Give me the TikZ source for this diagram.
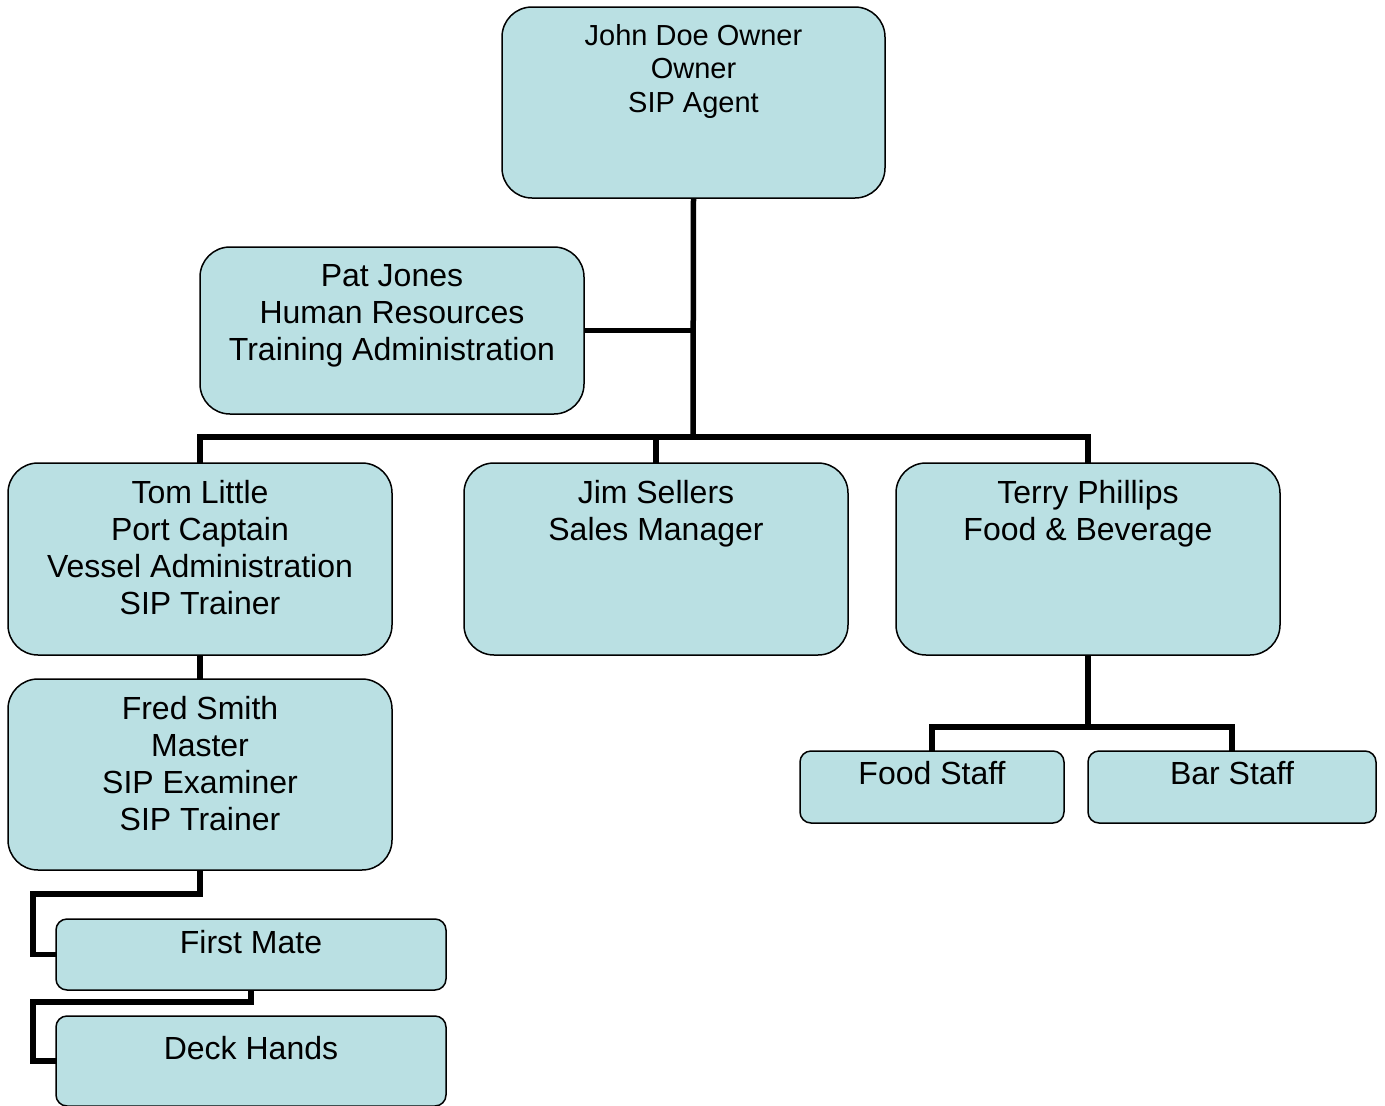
\documentclass[tikz,border=0pt]{standalone}
\usepackage{fontspec}
\setmainfont{Liberation Sans}
\usetikzlibrary{backgrounds}
\definecolor{boxfill}{RGB}{186,224,227}
\tikzset{
  x=1pt, y=-1pt,
  orgbox/.style={draw=black, line width=1.5pt, fill=boxfill, rectangle, inner sep=0pt, outer sep=0pt},
  bigbox/.style={orgbox, rounded corners=30pt},
  smallbox/.style={orgbox, rounded corners=11pt},
  txt/.style={anchor=north, align=center, inner sep=0pt, font=\fontsize{32}{37}\selectfont},
  txtj/.style={anchor=north, align=center, inner sep=0pt, font=\fontsize{29}{33.5}\selectfont},
  conn/.style={draw=black, line width=5.5pt, line join=miter}
}
\begin{document}
\begin{tikzpicture}
\useasboundingbox (0,0) rectangle (1385,1106);
% boxes
\node[bigbox, minimum width=383pt, minimum height=191pt] (john) at (693.5,102.5) {};
\node[bigbox, minimum width=384pt, minimum height=167pt] (pat) at (392,330.5) {};
\node[bigbox, minimum width=384pt, minimum height=192pt] (tom) at (200,559) {};
\node[bigbox, minimum width=384pt, minimum height=192pt] (jim) at (656,559) {};
\node[bigbox, minimum width=384pt, minimum height=192pt] (terry) at (1088,559) {};
\node[bigbox, minimum width=384pt, minimum height=191pt] (fred) at (200,774.5) {};
\node[smallbox, minimum width=264pt, minimum height=72pt] (food) at (932,787) {};
\node[smallbox, minimum width=288pt, minimum height=72pt] (barst) at (1232,787) {};
\node[smallbox, minimum width=390pt, minimum height=71pt] (mate) at (251,954.5) {};
\node[smallbox, minimum width=390pt, minimum height=90pt] (deck) at (251,1061) {};
% texts
\node[txtj] (johnT) at (693.5,24) {John Doe Owner\\Owner\\SIP Agent};
\node[txt] (patT) at (392,264) {Pat Jones\\Human Resources\\Training Administration};
\node[txt] (tomT) at (200,480) {Tom Little\\Port Captain\\Vessel Administration\\SIP Trainer};
\node[txt] (jimT) at (656,480) {Jim Sellers\\Sales Manager};
\node[txt] (terryT) at (1088,480) {Terry Phillips\\Food \& Beverage};
\node[txt] (fredT) at (200,696) {Fred Smith\\Master\\SIP Examiner\\SIP Trainer};
\node[txt] (foodT) at (932,761) {Food Staff};
\node[txt] (barT) at (1232,761) {Bar Staff};
\node[txt] (mateT) at (251,930) {First Mate};
\node[txt] (deckT) at (251,1036) {Deck Hands};
% connectors
\coordinate (bar) at (693,437);
\coordinate (fb) at (1088,727);
\coordinate (fm1) at (33,894);
\coordinate (fm2) at (33,1002);
\begin{scope}[on background layer]
\draw[conn] (john.south) -- (bar);
\draw[conn] (pat.east) -- (pat.east -| john.south);
\draw[conn] (tom.north) |- (terry.north |- bar) -- (terry.north);
\draw[conn] (jim.north) -- (jim.north |- bar);
\draw[conn] (tom.south) -- (fred.north);
\draw[conn] (fred.south) |- (fm1) |- (mate.west);
\draw[conn] (mate.south) |- (fm2) |- (deck.west);
\draw[conn] (terry.south) -- (fb);
\draw[conn] (food.north) |- (fb) -| (barst.north);
\end{scope}
\end{tikzpicture}
\end{document}
